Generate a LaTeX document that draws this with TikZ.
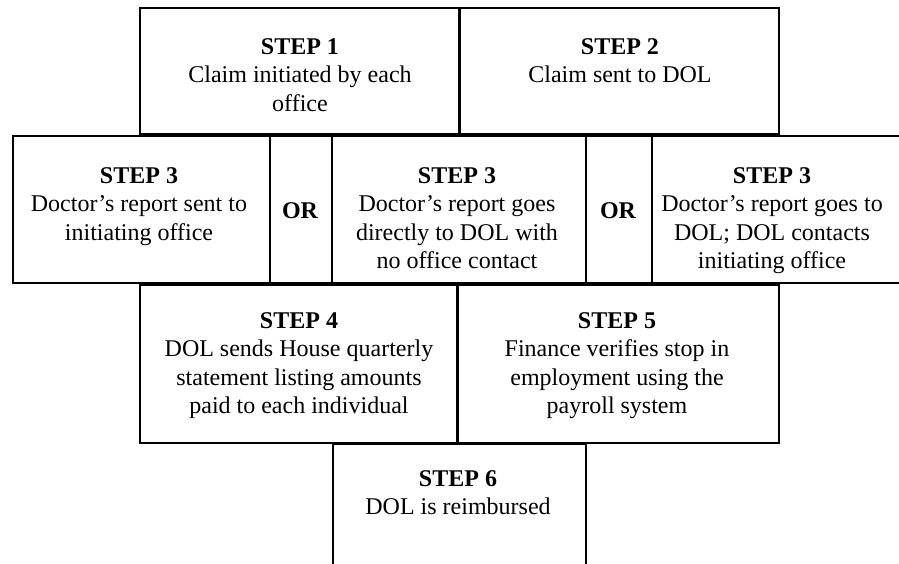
\documentclass[tikz,border=0pt]{standalone}
\usepackage{fontspec}
\setmainfont{Liberation Serif}
\begin{document}
\begin{tikzpicture}[x=1pt,y=-1pt,
  box/.style={draw=black,line width=2pt,anchor=north west,inner sep=0pt},
  txt/.style={anchor=north,inner sep=0pt,align=center,
    font=\fontsize{24}{28.5}\selectfont},
  ortxt/.style={anchor=north,inner sep=0pt,font=\fontsize{24}{28.5}\selectfont\bfseries}]
\useasboundingbox (0,0) rectangle (899,563);
\clip (0,0) rectangle (899,563);
% row 1
\node[box,minimum width=319pt,minimum height=126pt] (b1) at (139,7) {};
\node[box,minimum width=319pt,minimum height=126pt] (b2) at (459,7) {};
% row 2
\node[box,minimum width=257pt,minimum height=147pt] (b3a) at (12,135) {};
\node[box,minimum width=62pt,minimum height=147pt] (or1) at (269,135) {};
\node[box,minimum width=254pt,minimum height=147pt] (b3b) at (331,135) {};
\node[box,minimum width=66pt,minimum height=147pt] (or2) at (585,135) {};
\node[box,minimum width=260pt,minimum height=147pt] (b3c) at (651,135) {};
% row 3
\node[box,minimum width=317pt,minimum height=158pt] (b4) at (139,284) {};
\node[box,minimum width=321pt,minimum height=158pt] (b5) at (457,284) {};
% row 4
\node[box,minimum width=253pt,minimum height=140pt] (b6) at (332,443) {};
% texts
\node[txt] (t1) at (300,38) {\textbf{STEP 1}\\Claim initiated by each\\office};
\node[txt] (t2) at (620,38) {\textbf{STEP 2}\\Claim sent to DOL};
\node[txt] (t3a) at (139,167) {\textbf{STEP 3}\\Doctor’s report sent to\\initiating office};
\node[ortxt] (o1) at (300,202) {OR};
\node[txt] (t3b) at (457,167) {\textbf{STEP 3}\\Doctor’s report goes\\directly to DOL with\\no office contact};
\node[ortxt] (o2) at (618,202) {OR};
\node[txt] (t3c) at (772,167) {\textbf{STEP 3}\\Doctor’s report goes to\\DOL; DOL contacts\\initiating office};
\node[txt] (t4) at (299,312) {\textbf{STEP 4}\\DOL sends House quarterly\\statement listing amounts\\paid to each individual};
\node[txt] (t5) at (617,312) {\textbf{STEP 5}\\Finance verifies stop in\\employment using the\\payroll system};
\node[txt] (t6) at (458,470) {\textbf{STEP 6}\\DOL is reimbursed};
\end{tikzpicture}
\end{document}
